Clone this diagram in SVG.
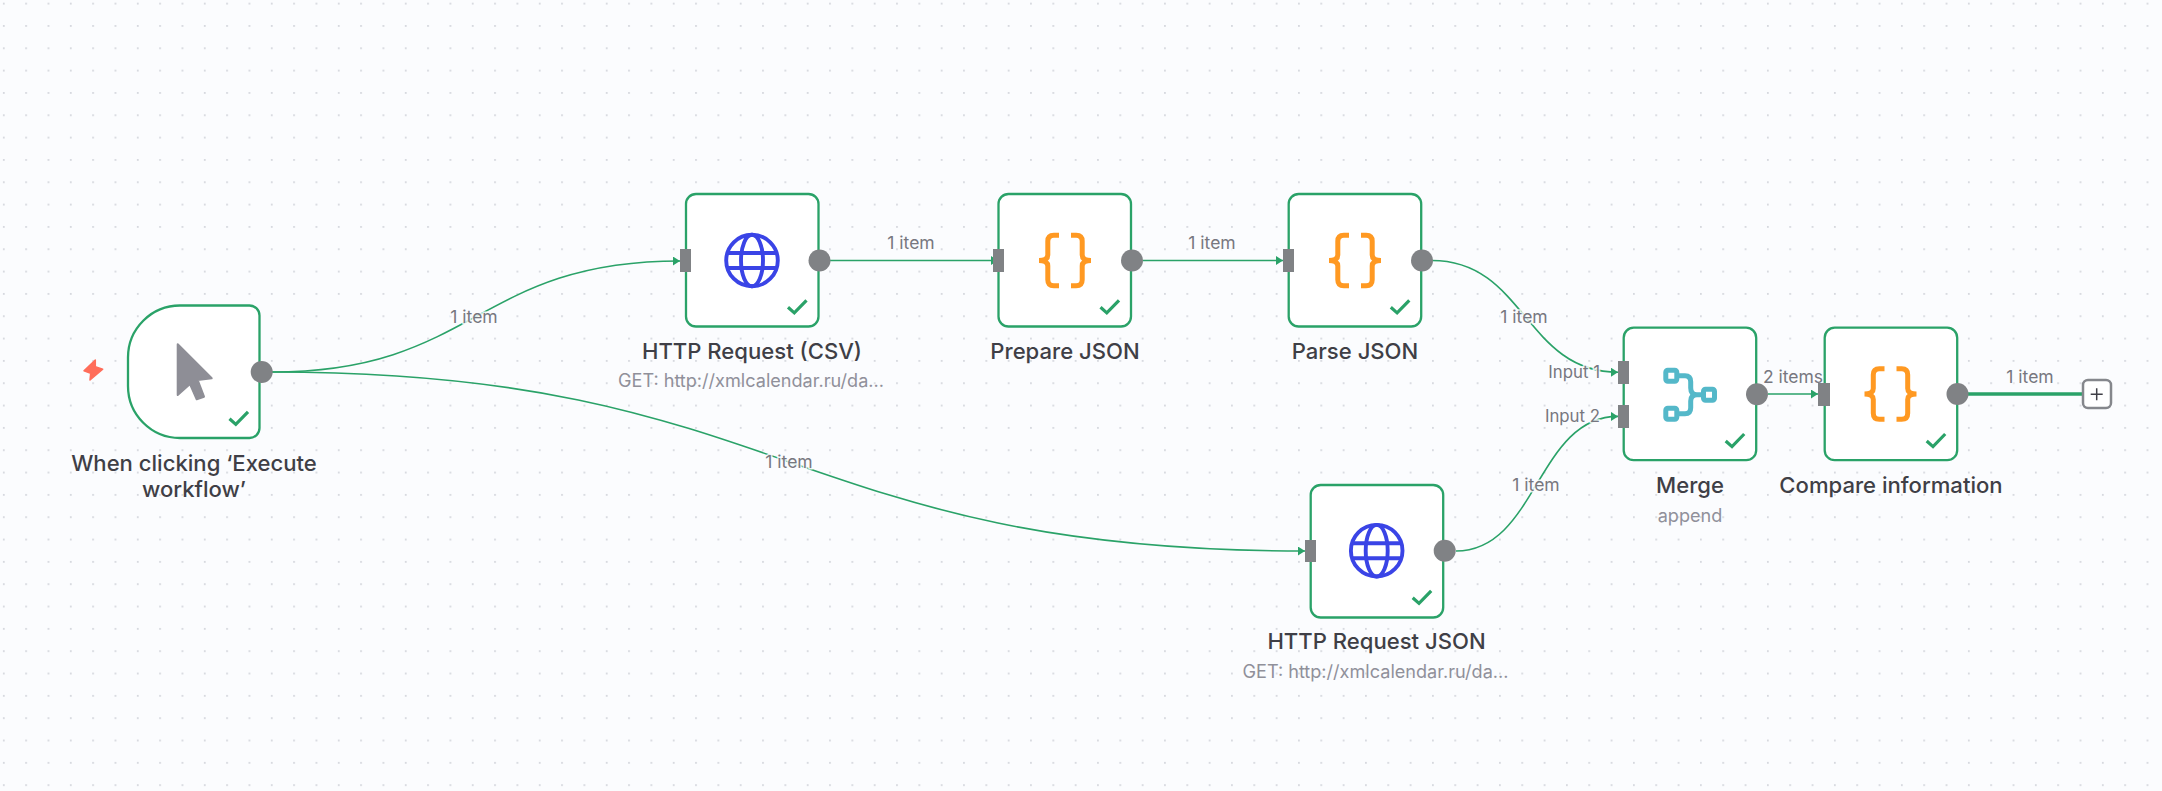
<svg xmlns="http://www.w3.org/2000/svg" width="2162" height="791" viewBox="0 0 2162 791">
<style>
text{font-family:"Inter","Liberation Sans",sans-serif}
.box{fill:#fff;stroke:#2aa268;stroke-width:2.3}
.pin{fill:#808285}
.edge{fill:none;stroke:#2aa268;stroke-width:1.6}
.name{font-size:22.1px;font-weight:500;fill:#3f3f46;text-anchor:middle}
.sub{font-size:18.1px;fill:#90909a;text-anchor:middle}
.lab{font-size:17.5px;fill:#77777f;text-anchor:middle;paint-order:stroke;stroke:#fbfcfe;stroke-width:3;stroke-opacity:.85}
.inp{font-size:16.8px;text-anchor:end}
.check{fill:none;stroke:#2aa268;stroke-width:3.2}
.brace{fill:none;stroke:#ff9922;stroke-width:5}
.globe{fill:none;stroke:#3a44e6;stroke-width:3.9}
</style>
<defs>
<pattern id="dots" width="22.33" height="22.33" patternUnits="userSpaceOnUse" x="2.9" y="2.67">
<circle cx="0.9" cy="0.9" r="0.9" fill="#c9cbd3"/>
</pattern>
<marker id="arrow" markerUnits="userSpaceOnUse" markerWidth="8" markerHeight="10" refX="7" refY="4.5" orient="auto">
<path d="M0 0L7 4.5L0 9Z" fill="#2aa268"/>
</marker>
<g id="tick"><path class="check" d="M-30.5-19.2L-24.2-13.6L-12-26.2"/></g>
<g id="globeIcon" class="globe">
<circle r="25.8"/>
<ellipse rx="11" ry="25.8"/>
<path d="M-24-7.5H24M-24 7.5H24"/>
</g>
<g id="braceIcon" class="brace">
<path d="M-6-25.3H-11.2Q-17.2-25.3-17.2-19.3V-5.5Q-17.2 0-26 0Q-17.2 0-17.2 5.5V19.3Q-17.2 25.3-11.2 25.3H-6"/>
<path d="M6-25.3H11.2Q17.2-25.3 17.2-19.3V-5.5Q17.2 0 26 0Q17.2 0 17.2 5.5V19.3Q17.2 25.3 11.2 25.3H6"/>
</g>
</defs>
<rect width="2162" height="791" fill="#fbfcfe"/>
<rect width="2162" height="791" fill="url(#dots)"/>

<g id="connectors">
<path class="edge" marker-end="url(#arrow)" d="M272 372C476 372 476 261 680 261"/>
<path class="edge" marker-end="url(#arrow)" d="M272 372C788 372 788 551 1305 551"/>
<path class="edge" marker-end="url(#arrow)" d="M830 260.5H998"/>
<path class="edge" marker-end="url(#arrow)" d="M1143 260.5H1283"/>
<path class="edge" marker-end="url(#arrow)" d="M1432 260.5C1525 260.5 1525 372.2 1618 372.2"/>
<path class="edge" marker-end="url(#arrow)" d="M1456 551C1537 551 1537 416.4 1618 416.4"/>
<path class="edge" marker-end="url(#arrow)" d="M1768 394H1818"/>
<path fill="none" stroke="#2aa268" stroke-width="3.5" d="M1968 394H2083"/>
<text class="lab" x="474" y="322.5">1 item</text>
<text class="lab" x="789" y="467.5">1 item</text>
<text class="lab" x="911" y="249.3">1 item</text>
<text class="lab" x="1212" y="249.3">1 item</text>
<text class="lab" x="1524" y="322.5">1 item</text>
<text class="lab" x="1536" y="490.5">1 item</text>
<text class="lab" x="1793" y="382.5">2 items</text>
<text class="lab" x="2030" y="382.5">1 item</text>
<text class="lab inp" x="1600" y="377.5">Input 1</text>
<text class="lab inp" x="1600" y="421.5">Input 2</text>
</g>

<g id="node-trigger">
<path d="M95.3 360L84 370.7L90.7 373.3L90 380L102.7 369.3L95.3 366.7Z" fill="#ff6d5a" stroke="#ff6d5a" stroke-width="1.5" stroke-linejoin="round"/>
<path class="box" d="M180 305.5H249.5a10 10 0 0 1 10 10V428a10 10 0 0 1-10 10H180a52 52 0 0 1-52-52V357.5a52 52 0 0 1 52-52Z"/>
<path d="M177.7 344.3L211.7 378.3L197.7 380L204 396.7L196.7 399.3L190 384L177.7 395Z" fill="#8e8e96" stroke="#8e8e96" stroke-width="2" stroke-linejoin="round"/>
<use href="#tick" x="260" y="438"/>
<circle class="pin" cx="261.7" cy="372" r="11"/>
<text class="name" x="194" y="470.7">When clicking ‘Execute</text>
<text class="name" x="194" y="496.7">workflow’</text>
</g>

<g id="node-http-csv">
<rect class="box" x="686" y="194" width="132.5" height="132.5" rx="10"/>
<rect class="pin" x="680" y="249" width="11" height="23"/>
<use href="#globeIcon" x="752" y="260.5"/>
<use href="#tick" x="818.5" y="326.5"/>
<circle class="pin" cx="819.5" cy="260.5" r="11"/>
<text class="name" x="752" y="358.7">HTTP Request (CSV)</text>
<text class="sub" x="751" y="387">GET: http://xmlcalendar.ru/da...</text>
</g>

<g id="node-prepare-json">
<rect class="box" x="998.5" y="194" width="132.5" height="132.5" rx="10"/>
<rect class="pin" x="993" y="249" width="11" height="23"/>
<use href="#braceIcon" x="1065" y="260.5"/>
<use href="#tick" x="1131" y="326.5"/>
<circle class="pin" cx="1132" cy="260.5" r="11"/>
<text class="name" x="1065" y="358.7">Prepare JSON</text>
</g>

<g id="node-parse-json">
<rect class="box" x="1288.7" y="194" width="132.5" height="132.5" rx="10"/>
<rect class="pin" x="1283" y="249" width="11" height="23"/>
<use href="#braceIcon" x="1355" y="260.5"/>
<use href="#tick" x="1421.3" y="326.5"/>
<circle class="pin" cx="1422" cy="260.5" r="11"/>
<text class="name" x="1355" y="358.7">Parse JSON</text>
</g>

<g id="node-http-json">
<rect class="box" x="1310.7" y="485" width="132.5" height="132.5" rx="10"/>
<rect class="pin" x="1305" y="540" width="11" height="22"/>
<use href="#globeIcon" x="1376.7" y="550.7"/>
<use href="#tick" x="1443.2" y="617"/>
<circle class="pin" cx="1444.7" cy="550.7" r="11"/>
<text class="name" x="1376.5" y="649">HTTP Request JSON</text>
<text class="sub" x="1375.5" y="678">GET: http://xmlcalendar.ru/da...</text>
</g>

<g id="node-merge">
<rect class="box" x="1623.7" y="327.7" width="132.5" height="132.5" rx="10"/>
<rect class="pin" x="1618" y="361" width="11" height="23"/>
<rect class="pin" x="1618" y="405" width="11" height="23"/>
<g fill="none" stroke="#54b8c9" stroke-width="5">
<rect x="1665.8" y="370.2" width="11" height="11" rx="2"/>
<rect x="1665.8" y="408.2" width="11" height="11" rx="2"/>
<rect x="1703.5" y="389.2" width="11" height="11" rx="2"/>
<path d="M1679 375.7H1685Q1690.7 375.7 1690.7 381.7V388Q1690.7 394.7 1697 394.7H1701M1679 413.7H1685Q1690.7 413.7 1690.7 407.7V401Q1690.7 394.7 1697 394.7"/>
</g>
<use href="#tick" x="1756.2" y="460.2"/>
<circle class="pin" cx="1757" cy="394.3" r="11"/>
<text class="name" x="1690" y="492.7">Merge</text>
<text class="sub" x="1690" y="521.7">append</text>
</g>

<g id="node-compare">
<rect class="box" x="1824.7" y="327.7" width="132.5" height="132.5" rx="10"/>
<rect class="pin" x="1818" y="383" width="12" height="23"/>
<use href="#braceIcon" x="1890.5" y="394"/>
<use href="#tick" x="1957.2" y="460.2"/>
<circle class="pin" cx="1957.5" cy="394" r="11"/>
<text class="name" x="1891" y="492.7">Compare information</text>
</g>

<g id="node-add">
<rect x="2083" y="380" width="28" height="28" rx="5" fill="#fff" stroke="#85878c" stroke-width="2.5"/>
<path d="M2090.7 394.3H2102.7M2096.7 388.3V400.3" stroke="#3f3f46" stroke-width="1.5" fill="none"/>
</g>
</svg>
